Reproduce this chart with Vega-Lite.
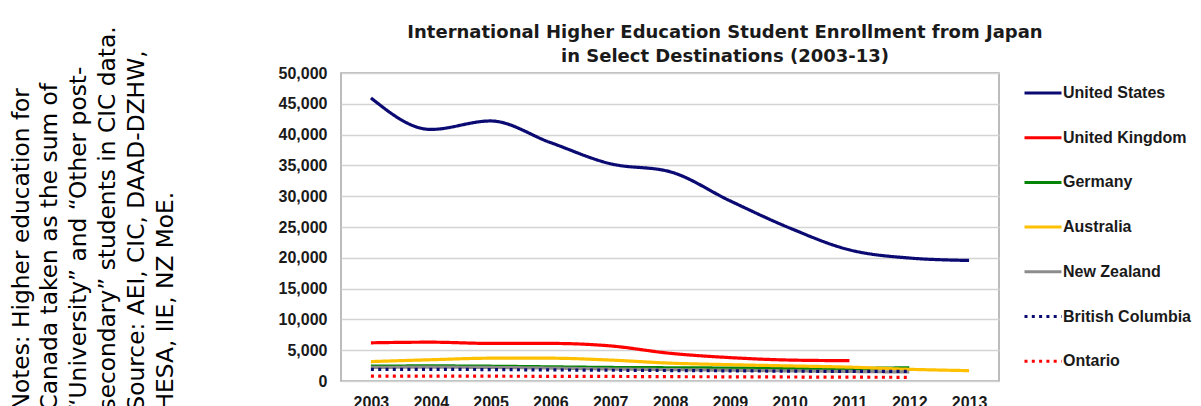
{
  "$schema": "https://vega.github.io/schema/vega-lite/v6.json",
  "width": 658,
  "height": 308,
  "autosize": {"type": "none"},
  "padding": {"left": 341, "top": 73, "right": 202, "bottom": 25},
  "background": "white",
  "title": {
    "text": ["International Higher Education Student Enrollment from Japan", "in Select Destinations (2003-13)"],
    "font": "DejaVu Sans",
    "fontSize": 18,
    "fontWeight": "bold",
    "color": "#1a1a1a",
    "anchor": "middle",
    "frame": "group",
    "dx": 55,
    "dy": 50,
    "offset": 10,
    "lineHeight": 23.5
  },
  "data": {
    "values": [
      {"year": "2003", "series": "United States", "value": 45960},
      {"year": "2004", "series": "United States", "value": 40835},
      {"year": "2005", "series": "United States", "value": 42215},
      {"year": "2006", "series": "United States", "value": 38712},
      {"year": "2007", "series": "United States", "value": 35282},
      {"year": "2008", "series": "United States", "value": 33974},
      {"year": "2009", "series": "United States", "value": 29264},
      {"year": "2010", "series": "United States", "value": 24842},
      {"year": "2011", "series": "United States", "value": 21290},
      {"year": "2012", "series": "United States", "value": 19966},
      {"year": "2013", "series": "United States", "value": 19568},
      {"year": "2003", "series": "United Kingdom", "value": 6200},
      {"year": "2004", "series": "United Kingdom", "value": 6300},
      {"year": "2005", "series": "United Kingdom", "value": 6100},
      {"year": "2006", "series": "United Kingdom", "value": 6100},
      {"year": "2007", "series": "United Kingdom", "value": 5700},
      {"year": "2008", "series": "United Kingdom", "value": 4500},
      {"year": "2009", "series": "United Kingdom", "value": 3800},
      {"year": "2010", "series": "United Kingdom", "value": 3400},
      {"year": "2011", "series": "United Kingdom", "value": 3300},
      {"year": "2003", "series": "Germany", "value": 2400},
      {"year": "2004", "series": "Germany", "value": 2450},
      {"year": "2005", "series": "Germany", "value": 2400},
      {"year": "2006", "series": "Germany", "value": 2300},
      {"year": "2007", "series": "Germany", "value": 2200},
      {"year": "2008", "series": "Germany", "value": 2150},
      {"year": "2009", "series": "Germany", "value": 2100},
      {"year": "2010", "series": "Germany", "value": 2050},
      {"year": "2011", "series": "Germany", "value": 2050},
      {"year": "2012", "series": "Germany", "value": 2150},
      {"year": "2003", "series": "Australia", "value": 3150},
      {"year": "2004", "series": "Australia", "value": 3450},
      {"year": "2005", "series": "Australia", "value": 3700},
      {"year": "2006", "series": "Australia", "value": 3700},
      {"year": "2007", "series": "Australia", "value": 3400},
      {"year": "2008", "series": "Australia", "value": 2900},
      {"year": "2009", "series": "Australia", "value": 2650},
      {"year": "2010", "series": "Australia", "value": 2450},
      {"year": "2011", "series": "Australia", "value": 2250},
      {"year": "2012", "series": "Australia", "value": 1900},
      {"year": "2013", "series": "Australia", "value": 1680},
      {"year": "2003", "series": "New Zealand", "value": 2200},
      {"year": "2004", "series": "New Zealand", "value": 2250},
      {"year": "2005", "series": "New Zealand", "value": 2200},
      {"year": "2006", "series": "New Zealand", "value": 2100},
      {"year": "2007", "series": "New Zealand", "value": 1950},
      {"year": "2008", "series": "New Zealand", "value": 1850},
      {"year": "2009", "series": "New Zealand", "value": 1750},
      {"year": "2010", "series": "New Zealand", "value": 1650},
      {"year": "2011", "series": "New Zealand", "value": 1550},
      {"year": "2012", "series": "New Zealand", "value": 1460},
      {"year": "2003", "series": "British Columbia", "value": 1900},
      {"year": "2004", "series": "British Columbia", "value": 1900},
      {"year": "2005", "series": "British Columbia", "value": 1850},
      {"year": "2006", "series": "British Columbia", "value": 1800},
      {"year": "2007", "series": "British Columbia", "value": 1750},
      {"year": "2008", "series": "British Columbia", "value": 1700},
      {"year": "2009", "series": "British Columbia", "value": 1650},
      {"year": "2010", "series": "British Columbia", "value": 1600},
      {"year": "2011", "series": "British Columbia", "value": 1550},
      {"year": "2012", "series": "British Columbia", "value": 1550},
      {"year": "2003", "series": "Ontario", "value": 800},
      {"year": "2004", "series": "Ontario", "value": 800},
      {"year": "2005", "series": "Ontario", "value": 780},
      {"year": "2006", "series": "Ontario", "value": 760},
      {"year": "2007", "series": "Ontario", "value": 740},
      {"year": "2008", "series": "Ontario", "value": 700},
      {"year": "2009", "series": "Ontario", "value": 680},
      {"year": "2010", "series": "Ontario", "value": 650},
      {"year": "2011", "series": "Ontario", "value": 620},
      {"year": "2012", "series": "Ontario", "value": 600}
    ]
  },
  "mark": {"type": "line", "interpolate": "monotone", "strokeWidth": 3.2, "strokeCap": "butt"},
  "encoding": {
    "x": {
      "field": "year",
      "type": "ordinal",
      "scale": {"type": "point", "padding": 0.5},
      "axis": {
        "title": null,
        "labelAngle": 0,
        "labelFont": "Liberation Sans",
        "labelFontSize": 16,
        "labelFontWeight": "bold",
        "labelColor": "#1a1a1a",
        "labelPadding": 13,
        "ticks": false,
        "domain": false,
        "grid": false
      }
    },
    "y": {
      "field": "value",
      "type": "quantitative",
      "scale": {"domain": [0, 50000], "nice": false},
      "axis": {
        "values": [0, 5000, 10000, 15000, 20000, 25000, 30000, 35000, 40000, 45000, 50000],
        "format": ",.0f",
        "labelFont": "Liberation Sans",
        "labelFontSize": 16,
        "labelFontWeight": "bold",
        "labelColor": "#1a1a1a",
        "labelPadding": 14,
        "ticks": false,
        "domain": false,
        "grid": true,
        "gridColor": "#d4d4d4",
        "gridWidth": 1.5,
        "title": [
          "Notes: Higher education for",
          "Canada taken as the sum of",
          "“University” and “Other post-",
          "secondary” students in CIC data.",
          "Source: AEI, CIC, DAAD-DZHW,",
          "HESA, IIE, NZ MoE."
        ],
        "titleFont": "DejaVu Sans",
        "titleFontSize": 23.3,
        "titleFontWeight": "normal",
        "titleColor": "#000000",
        "titleAngle": 270,
        "titleAlign": "left",
        "titleBaseline": "top",
        "titleLineHeight": 28.8,
        "titleX": -331,
        "titleY": 337
      }
    },
    "color": {
      "field": "series",
      "type": "nominal",
      "scale": {
        "domain": ["United States", "United Kingdom", "Germany", "Australia", "New Zealand", "British Columbia", "Ontario"],
        "range": ["#0a0a72", "#ff0000", "#058505", "#ffc000", "#8c8c8c", "#0a0a72", "#ff0000"]
      },
      "legend": {
        "title": null,
        "orient": "none",
        "legendX": 682,
        "legendY": 0,
        "padding": 0,
        "symbolType": "stroke",
        "symbolSize": 1369,
        "symbolStrokeWidth": 3,
        "labelFont": "Liberation Sans",
        "labelFontSize": 16,
        "labelFontWeight": "bold",
        "labelColor": "#1a1a1a",
        "labelOffset": 0,
        "rowPadding": 16.7,
        "labelLimit": 300
      }
    },
    "strokeDash": {
      "field": "series",
      "type": "nominal",
      "scale": {
        "domain": ["United States", "United Kingdom", "Germany", "Australia", "New Zealand", "British Columbia", "Ontario"],
        "range": [[1, 0], [1, 0], [1, 0], [1, 0], [1, 0], [3, 4.3], [3, 4.3]]
      },
      "legend": {
        "title": null,
        "orient": "none",
        "legendX": 682,
        "legendY": 0,
        "padding": 0,
        "symbolType": "stroke",
        "symbolSize": 1369,
        "symbolStrokeWidth": 3,
        "labelFont": "Liberation Sans",
        "labelFontSize": 16,
        "labelFontWeight": "bold",
        "labelColor": "#1a1a1a",
        "labelOffset": 0,
        "rowPadding": 16.7,
        "labelLimit": 300
      }
    },
    "order": {"field": "year"}
  },
  "config": {
    "view": {"stroke": "#a6a6a6", "strokeWidth": 1.5}
  }
}
